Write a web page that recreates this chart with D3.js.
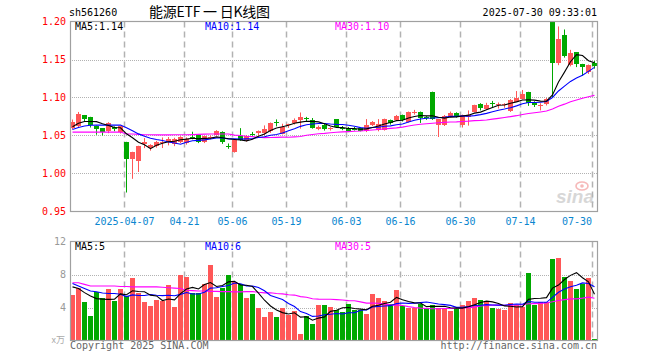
<!DOCTYPE html>
<html><head><meta charset="utf-8">
<script src="https://cdn.jsdelivr.net/npm/d3@7"></script>
<style>body{margin:0;background:#fff}svg{display:block}</style>
</head><body><svg id="c" width="660" height="360"></svg>
<script>
const dates = ["2025-03-24","2025-03-25","2025-03-26","2025-03-27","2025-03-28","2025-03-31",
"2025-04-01","2025-04-02","2025-04-03",
"2025-04-07","2025-04-08","2025-04-09","2025-04-10","2025-04-11",
"2025-04-14","2025-04-15","2025-04-16","2025-04-17","2025-04-18",
"2025-04-21","2025-04-22","2025-04-23","2025-04-24","2025-04-25",
"2025-04-28","2025-04-29","2025-04-30",
"2025-05-06","2025-05-07","2025-05-08","2025-05-09",
"2025-05-12","2025-05-13","2025-05-14","2025-05-15","2025-05-16",
"2025-05-19","2025-05-20","2025-05-21","2025-05-22","2025-05-23",
"2025-05-26","2025-05-27","2025-05-28","2025-05-29","2025-05-30",
"2025-06-03","2025-06-04","2025-06-05","2025-06-06",
"2025-06-09","2025-06-10","2025-06-11","2025-06-12","2025-06-13",
"2025-06-16","2025-06-17","2025-06-18","2025-06-19","2025-06-20",
"2025-06-23","2025-06-24","2025-06-25","2025-06-26","2025-06-27",
"2025-06-30",
"2025-07-01","2025-07-02","2025-07-03","2025-07-04",
"2025-07-07","2025-07-08","2025-07-09","2025-07-10","2025-07-11",
"2025-07-14","2025-07-15","2025-07-16","2025-07-17","2025-07-18",
"2025-07-21","2025-07-22","2025-07-23","2025-07-24","2025-07-25",
"2025-07-28","2025-07-29","2025-07-30"];

const open = [1.060,1.062,1.077,1.0746,1.063,1.0597,1.0553,1.0614,1.0545,
1.0417,1.019,1.017,1.039,1.034,
1.0365,1.0395,1.0417,1.039,1.0417,
1.040,1.0485,1.051,1.042,1.047,
1.051,1.0549,1.0365,
1.0283,1.0487,1.0443,1.0525,
1.0535,1.0532,1.0553,1.0673,1.0522,
1.0632,1.0663,1.0707,1.0725,1.0707,
1.058,1.064,1.058,1.0716,1.0605,
1.0597,1.059,1.0597,1.0553,
1.064,1.0575,1.0575,1.0707,1.0707,
1.0772,1.0684,1.080,1.0808,1.0737,
1.1077,1.0635,1.064,1.075,1.0795,
1.0643,
1.0745,1.0812,1.0917,1.0847,
1.093,1.0912,1.0905,1.0816,1.0947,
1.0983,1.1075,1.0926,1.089,1.0908,
1.200,1.146,1.1825,1.143,1.1597,
1.1443,1.133,1.146];

const high = [1.071,1.081,1.077,1.0746,1.063,1.0597,1.0675,1.062,1.0627,
1.0417,1.0286,1.0365,1.0466,1.0385,
1.043,1.0474,1.048,1.047,1.049,
1.0475,1.055,1.052,1.0495,1.050,
1.057,1.0555,1.0395,
1.0443,1.0597,1.0505,1.0547,
1.0566,1.0633,1.0671,1.0712,1.0655,
1.0655,1.0725,1.0803,1.0745,1.073,
1.063,1.065,1.061,1.0716,1.0625,
1.0612,1.0612,1.0605,1.0716,
1.069,1.0716,1.0722,1.071,1.077,
1.0775,1.0815,1.0837,1.0815,1.0755,
1.1077,1.0716,1.077,1.0815,1.0805,
1.0775,
1.083,1.0905,1.0925,1.093,
1.0955,1.0935,1.0925,1.098,1.1085,
1.1099,1.1075,1.095,1.0925,1.0995,
1.200,1.1935,1.1895,1.1627,1.1597,
1.1443,1.1434,1.148];

const low = [1.058,1.060,1.069,1.0605,1.051,1.050,1.053,1.0556,1.0526,
0.975,0.993,1.002,1.0334,1.030,
1.034,1.0335,1.037,1.036,1.040,
1.038,1.045,1.040,1.040,1.045,
1.050,1.039,1.0325,
1.0275,1.043,1.042,1.0497,
1.0496,1.0505,1.0535,1.062,1.0515,
1.060,1.0645,1.059,1.068,1.059,
1.057,1.0565,1.0565,1.0605,1.057,
1.0545,1.0565,1.0555,1.0545,
1.0625,1.0555,1.0565,1.0643,1.070,
1.0685,1.067,1.0775,1.0665,1.0705,
1.0705,1.048,1.0625,1.074,1.0735,
1.0605,
1.063,1.0805,1.083,1.084,
1.0875,1.0855,1.0865,1.081,1.094,
1.0975,1.089,1.0875,1.083,1.0895,
1.1005,1.1425,1.1525,1.141,1.140,
1.1286,1.131,1.138];

const close = [1.068,1.078,1.072,1.064,1.059,1.0545,1.0667,1.058,1.0624,
1.0197,1.0286,1.0365,1.0417,1.037,
1.0417,1.042,1.046,1.045,1.0474,
1.046,1.047,1.0421,1.0487,1.048,
1.0553,1.0408,1.0355,
1.0443,1.0443,1.0496,1.052,
1.0553,1.0584,1.0671,1.0663,1.061,
1.065,1.0707,1.075,1.0716,1.0605,
1.0616,1.0584,1.0605,1.0618,1.0597,
1.0553,1.0584,1.0562,1.064,
1.0684,1.0654,1.0716,1.0663,1.076,
1.0707,1.0808,1.0815,1.0729,1.073,
1.0715,1.0712,1.076,1.0795,1.0745,
1.0773,
1.0765,1.0895,1.086,1.0895,
1.0925,1.0918,1.0912,1.097,1.0987,
1.1049,1.0926,1.0895,1.0905,1.0983,
1.146,1.1773,1.1549,1.159,1.1447,
1.140,1.1434,1.142];

// volume in units of 10,000 (万)
const volume = [5.5,6.4,4.65,2.95,5.9,5.2,6.2,4.77,6.2,
5.4,7.6,5.7,4.65,4.16,
4.9,4.8,6.67,4.12,7.9,
7.7,5.8,5.7,6.8,9.1,
5.33,6.4,7.9,
7.1,6.9,5.2,5.6,
3.9,2.8,3.4,2.8,4.0,
3.07,3.55,0.73,3.0,1.94,
4.36,4.28,4.08,3.67,3.47,
4.48,3.67,3.75,3.27,
5.58,5.1,4.77,4.48,6.18,
4.16,4.0,3.97,4.44,3.97,
4.36,3.97,3.97,3.55,3.8,
4.36,
4.77,5.2,4.85,4.69,
3.88,3.8,3.75,4.6,4.28,
4.08,8.24,4.28,4.69,4.69,
9.86,10.06,7.64,7.23,6.3,
6.8,7.6,0.16];

const ma5Lead  = [1.0615,1.066,1.0684,1.0684];
const ma10Lead = [1.0578,1.0605,1.0625,1.0635,1.0637,1.0637,1.0637,1.0637,1.0637];
const ma30Lead = [1.0545,1.0545,1.0545,1.0545,1.0545,1.0545,1.0545,1.0545,1.0545,
1.052,1.052,1.0515,1.051,1.051,1.0508,1.0508,1.0508,1.051,1.051,1.051,1.0512,1.0515,1.0518,1.052,1.052,1.052,1.052,1.0505,1.050];
const vma5Lead  = [6.5,6.3,5.8,5.4];
const vma10Lead = [6.9,6.6,6.3,6.0,5.9,5.75,5.7,5.7,5.6];
const vma30Lead = [7.0,7.0,6.8,6.6,6.6,6.6,6.6,6.6,6.55,6.55,6.5,6.5,6.5,6.5,6.5,6.45,6.4,6.35,6.3,6.1,6.05,6.0,6.0,5.95,5.95,5.92,5.92,5.9,5.9];

// legend values as printed on the chart
const priceLegendNames = ["MA5", "MA10", "MA30"];
const priceLegendValues = ["1.14", "1.14", "1.10"];
const volLegendValues = ["5", "6", "5"];

const priceTicks = [0.95,1.00,1.05,1.10,1.15,1.20];
const volTicks = [4,8,12];
const dateTicks = ["2025-04-07","2025-04-21","2025-05-06","2025-05-19","2025-06-03","2025-06-16","2025-06-30","2025-07-14","2025-07-30"];
const dateTickLabels = ["2025-04-07","04-21","05-06","05-19","06-03","06-16","06-30","07-14","07-30"];
const symbol = "sh561260";
const title = "能源ETF 一 日K线图";
const stamp = "2025-07-30 09:33:01";

const RED = "#ff5757", GREEN = "#00a800", GRID = "#b2b2b2", FRAME = "#a0a0a0";
const MONO = "'DejaVu Sans Mono', 'Liberation Mono', monospace";
const MA_COLORS = ["#000000", "#0000ff", "#ff00ff"];

function movingAvg(arr, n, lead) {
  return arr.map((_, i) => i < lead.length ? lead[i] : d3.mean(arr.slice(i - n + 1, i + 1)));
}

const svg = d3.select("#c");
const L = 70, R = 597;
const x = d3.scaleBand().domain(dates).range([69.5, 597.5]).paddingInner(1/6).paddingOuter(1/12);
const y = d3.scaleLinear().domain([0.95, 1.20]).range([211.5, 21.5]);
const yv = d3.scaleLinear().domain([0, 12]).range([340.5, 241.5]);
const bw = x.bandwidth();

// header
svg.append("text").attr("x", 69).attr("y", 16).attr("font-family", MONO).attr("font-size", 10).attr("fill", "#000").text(symbol);
svg.append("text").attr("x", 149).attr("y", 17).attr("font-family", "'Noto Sans CJK SC', sans-serif").attr("font-size", 14).attr("fill", "#000")
  .attr("textLength", 121).attr("lengthAdjust", "spacing").text(title);
svg.append("text").attr("x", 597).attr("y", 16).attr("text-anchor", "end").attr("font-family", MONO).attr("font-size", 10).attr("fill", "#000").text(stamp);

function panel(yTop, yBot, hTicks, yScale) {
  const g = svg.append("g");
  g.selectAll("line.h").data(hTicks).join("line")
    .attr("x1", L).attr("x2", R)
    .attr("y1", d => Math.round(yScale(d)) + 0.5).attr("y2", d => Math.round(yScale(d)) + 0.5)
    .attr("stroke", GRID).attr("stroke-dasharray", "1,1").attr("shape-rendering", "crispEdges");
  g.selectAll("line.v").data(dateTicks).join("line")
    .attr("x1", d => x(d) + 0.5).attr("x2", d => x(d) + 0.5)
    .attr("y1", yTop).attr("y2", yBot)
    .attr("stroke", GRID).attr("stroke-width", 1.5).attr("stroke-dasharray", "6,4");
  return g;
}
function frame(yTop, yBot) {
  svg.append("rect").attr("x", L + 0.5).attr("y", yTop).attr("width", R - L).attr("height", yBot - yTop)
    .attr("fill", "none").attr("stroke", FRAME).attr("stroke-width", 1.2);
}

// ---- price panel ----
panel(21.5, 211.5, [1.00, 1.05, 1.10, 1.15], y);

// watermark
const wm = svg.append("g").attr("opacity", 0.55);
wm.append("text").attr("x", 594).attr("y", 203).attr("text-anchor", "end")
  .attr("font-family", "'Liberation Sans', Arial, sans-serif").attr("font-style", "italic").attr("font-weight", "bold")
  .attr("font-size", 19).attr("fill", "#b8b8b8").text("sina");
wm.append("ellipse").attr("cx", 582).attr("cy", 186).attr("rx", 6).attr("ry", 4).attr("fill", "none").attr("stroke", "#f08080").attr("stroke-width", 1.6);
wm.append("circle").attr("cx", 582).attr("cy", 186).attr("r", 1.8).attr("fill", "#f08080");

svg.append("g").selectAll("text").data(priceTicks).join("text")
  .attr("x", 66).attr("y", d => y(d)).attr("dy", "0.35em").attr("text-anchor", "end")
  .attr("font-family", MONO).attr("font-size", 10).attr("fill", "#ff0000").text(d => d.toFixed(2));

const cg = svg.append("g");
dates.forEach((d, i) => {
  const up = close[i] >= open[i];
  const col = up ? RED : GREEN;
  const cx = x(d) + Math.floor(bw / 2) + 0.5;
  cg.append("line").attr("x1", cx).attr("x2", cx).attr("y1", y(high[i])).attr("y2", y(low[i]))
    .attr("stroke", col).attr("stroke-width", 1);
  const top = y(Math.max(open[i], close[i])), bot = y(Math.min(open[i], close[i]));
  cg.append("rect").attr("x", x(d)).attr("width", bw).attr("y", top).attr("height", Math.max(1, bot - top))
    .attr("fill", col).attr("shape-rendering", "crispEdges");
});

const ma5 = movingAvg(close, 5, ma5Lead), ma10 = movingAvg(close, 10, ma10Lead), ma30 = movingAvg(close, 30, ma30Lead);
const cxOf = d => x(d) + bw / 2;
const pline = d3.line().x((v, i) => cxOf(dates[i])).y(v => y(v));
[[ma30, MA_COLORS[2]], [ma10, MA_COLORS[1]], [ma5, MA_COLORS[0]]].forEach(([arr, c]) => {
  svg.append("path").attr("d", pline(arr)).attr("fill", "none").attr("stroke", c).attr("stroke-width", 1.1);
});
frame(21.5, 211.5);

const legendX = [75, 205, 335];
priceLegendNames.forEach((n, k) => svg.append("text").attr("x", legendX[k]).attr("y", 30).attr("font-family", MONO).attr("font-size", 10)
  .attr("fill", MA_COLORS[k]).text(n + ":" + priceLegendValues[k]));

// date labels
svg.append("g").selectAll("text").data(dateTicks).join("text")
  .attr("x", (d, i) => i === dateTicks.length - 1 ? x(d) : x(d) + 0.5)
  .attr("y", 225).attr("text-anchor", (d, i) => i === dateTicks.length - 1 ? "end" : "middle")
  .attr("font-family", MONO).attr("font-size", 10).attr("fill", "#0a86cf")
  .text((d, i) => dateTickLabels[i]);

// ---- volume panel ----
panel(241.5, 340.5, [4, 8], yv);
const vg = svg.append("g");
dates.forEach((d, i) => {
  const col = close[i] >= open[i] ? RED : GREEN;
  vg.append("rect").attr("x", x(d)).attr("width", bw).attr("y", yv(volume[i])).attr("height", yv(0) - yv(volume[i]))
    .attr("fill", col).attr("shape-rendering", "crispEdges");
});
const vma5 = movingAvg(volume, 5, vma5Lead), vma10 = movingAvg(volume, 10, vma10Lead), vma30 = movingAvg(volume, 30, vma30Lead);
const vline = d3.line().x((v, i) => cxOf(dates[i])).y(v => yv(v));
[[vma30, MA_COLORS[2]], [vma10, MA_COLORS[1]], [vma5, MA_COLORS[0]]].forEach(([arr, c]) => {
  svg.append("path").attr("d", vline(arr)).attr("fill", "none").attr("stroke", c).attr("stroke-width", 1.1);
});
frame(241.5, 340.5);

svg.append("g").selectAll("text").data(volTicks).join("text")
  .attr("x", 66).attr("y", d => yv(d)).attr("dy", "0.35em").attr("text-anchor", "end")
  .attr("font-family", MONO).attr("font-size", 10).attr("fill", "#999").text(d => d);
svg.append("text").attr("x", 65).attr("y", 343).attr("text-anchor", "end")
  .attr("font-family", "'Noto Sans CJK SC', serif").attr("font-size", 9).attr("fill", "#aaa").text("x万");

priceLegendNames.forEach((n, k) => svg.append("text").attr("x", legendX[k]).attr("y", 250).attr("font-family", MONO).attr("font-size", 10)
  .attr("fill", MA_COLORS[k]).text(n + ":" + volLegendValues[k]));

// footer
svg.append("text").attr("x", 70).attr("y", 349).attr("font-family", MONO).attr("font-size", 10).attr("fill", "#666").text("Copyright 2025 SINA.COM");
svg.append("text").attr("x", 597).attr("y", 349).attr("text-anchor", "end").attr("font-family", MONO).attr("font-size", 10).attr("fill", "#666").text("http://finance.sina.com.cn");
</script></body></html>
